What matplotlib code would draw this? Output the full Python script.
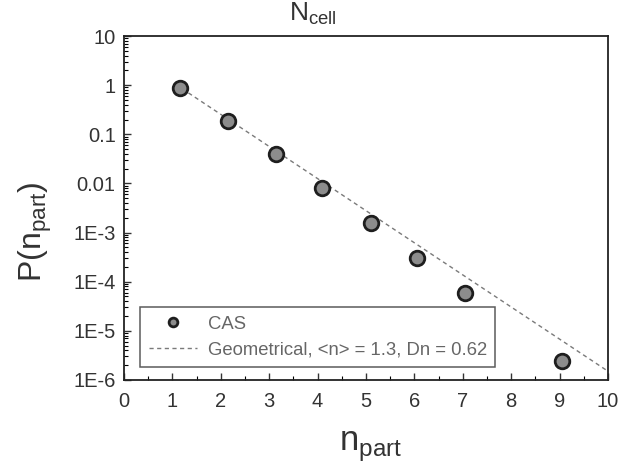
import matplotlib
matplotlib.use("Agg")
from matplotlib import pyplot
from matplotlib.ticker import FixedLocator, LogLocator, NullFormatter, MultipleLocator

pyplot.rcParams['font.family'] = ['Liberation Sans', 'DejaVu Sans']

# CAS data points
n_part = [1.15, 2.15, 3.15, 4.1, 5.1, 6.05, 7.05, 9.05]
p_cas = [0.87, 0.19, 0.040, 7.9e-3, 1.6e-3, 3.0e-4, 5.9e-5, 2.4e-6]

# geometrical fit line (end points)
fit_x = [1.2, 10.0]
fit_y = [0.85, 1.5e-6]

y_ticks = [10, 1, 0.1, 0.01, 1e-3, 1e-4, 1e-5, 1e-6]
y_labels = ["10", "1", "0.1", "0.01", "1E-3", "1E-4", "1E-5", "1E-6"]
x_ticks = list(range(0, 11))

fig = pyplot.figure(figsize=(6.25, 4.69), dpi=100)
ax = fig.add_axes([0.1984, 0.19, 0.7744, 0.733])

ax.plot(n_part, p_cas, linestyle="none", marker="o", markersize=10.5,
        markerfacecolor="#8c8c8c", markeredgecolor="#1e1e1e", markeredgewidth=2.0,
        label="CAS", zorder=3)
ax.plot(fit_x, fit_y, linestyle=(0, (3, 2.5)), color="#7a7a7a", linewidth=1.0,
        label="Geometrical, <n> = 1.3, Dn = 0.62", zorder=2)

ax.set_yscale("log")
ax.set_xlim(0, 10)
ax.set_ylim(1e-6, 10)
ax.yaxis.set_major_locator(FixedLocator(y_ticks))
ax.set_yticklabels(y_labels)
ax.yaxis.set_minor_locator(LogLocator(base=10, subs=range(2, 10), numticks=20))
ax.yaxis.set_minor_formatter(NullFormatter())
ax.set_xticks(x_ticks)
ax.xaxis.set_minor_locator(MultipleLocator(0.5))

ax.tick_params(axis="both", which="major", direction="in", length=5, width=1,
               labelsize=14.5, colors="#333333", top=False, right=False)
ax.tick_params(axis="x", which="major", pad=9)
ax.tick_params(axis="y", which="major", pad=6)
ax.tick_params(axis="both", which="minor", direction="in", length=3, width=0.8,
               top=False, right=False)
for s in ax.spines.values():
    s.set_linewidth(1.3)
    s.set_color("#222222")

ax.set_xlabel(r"n$_{\mathregular{part}}$", fontsize=25, color="#333333")
ax.xaxis.set_label_coords(0.51, -0.145)
ax.set_ylabel(r"P(n$_{\mathregular{part}}$)", fontsize=23, color="#333333")
ax.yaxis.set_label_coords(-0.145, 0.43)

# title at the top edge of the scan
fig.text(0.462, 0.998, r"N$_{\mathregular{cell}}$", fontsize=19, color="#333333",
         ha="left", va="top")

leg = ax.legend(loc="lower left", bbox_to_anchor=(0.015, 0.01), fontsize=13.3,
                frameon=True, fancybox=False, edgecolor="#333333",
                handlelength=2.6, borderpad=0.45, labelspacing=0.5,
                markerscale=0.6, handletextpad=0.6)
leg.get_frame().set_linewidth(1.1)
for t in leg.get_texts():
    t.set_color("#666666")

fig.savefig("out.png", dpi=100)
pyplot.close(fig)
